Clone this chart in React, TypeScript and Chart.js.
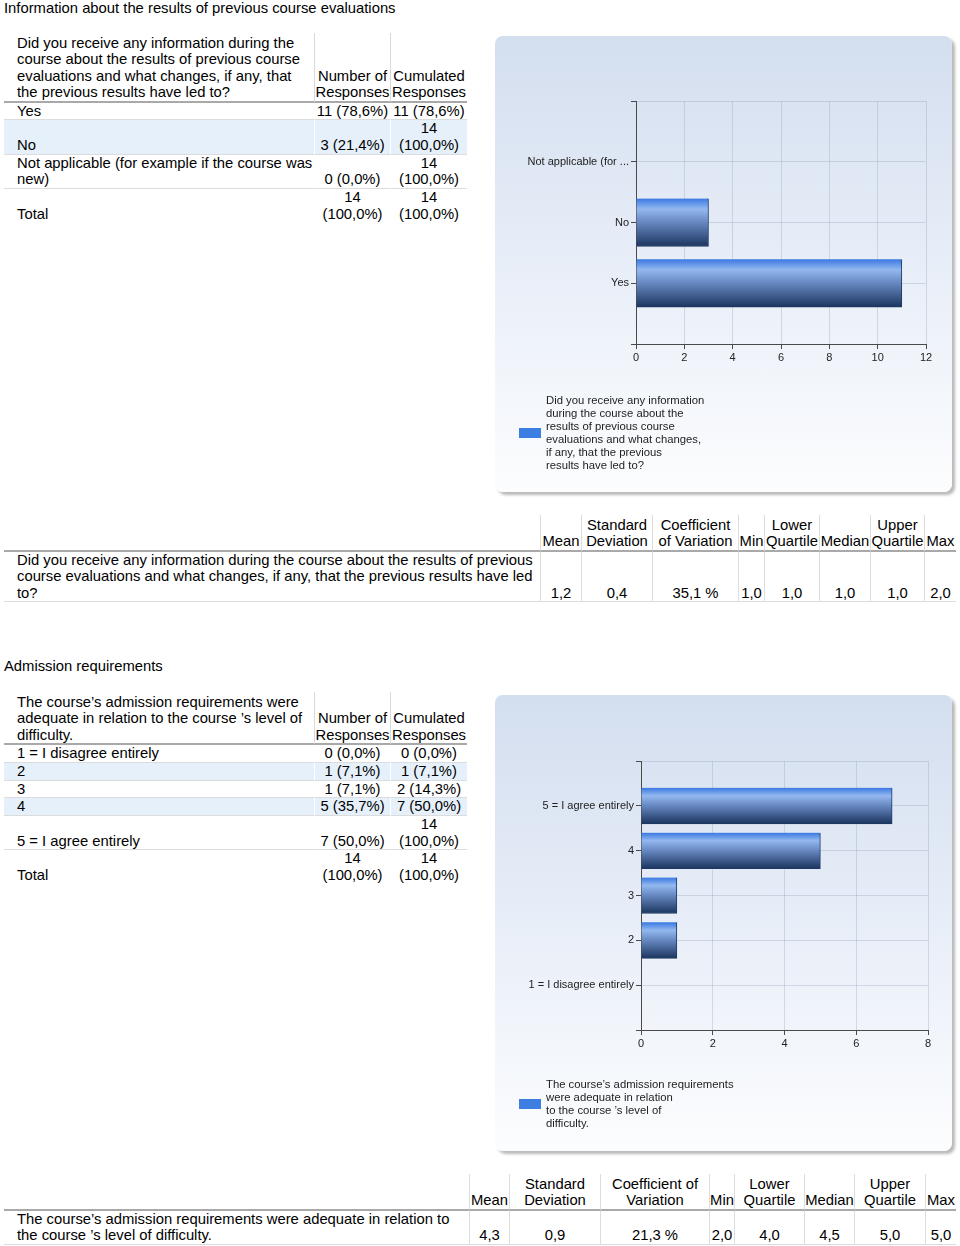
import React, { useEffect, useRef } from "react";
import { Chart, registerables } from "chart.js";
Chart.register(...registerables);

const FONT = '"Liberation Sans", Arial, Helvetica, sans-serif';

// ---------- Section 1 data ----------
const title1 = "Information about the results of previous course evaluations";
const q1Question =
  "Did you receive any information during the\ncourse about the results of previous course\nevaluations and what changes, if any, that\nthe previous results have led to?";
const freqHeaders = ["Number of\nResponses", "Cumulated\nResponses"];
const q1RowLabels = ["Yes", "No", "Not applicable (for example if the course was\nnew)", "Total"];
const q1CountText = ["11 (78,6%)", "3 (21,4%)", "0 (0,0%)", "14\n(100,0%)"];
const q1CumText = ["11 (78,6%)", "14\n(100,0%)", "14\n(100,0%)", "14\n(100,0%)"];

const q1ChartLabels = ["Yes", "No", "Not applicable (for ..."];
const q1Counts = [11, 3, 0];
const q1XMax = 12;
const q1Legend = [
  "Did you receive any information",
  "during the course about the",
  "results of previous course",
  "evaluations and what changes,",
  "if any, that the previous",
  "results have led to?",
];

const q1StatHeaders = ["Mean", "Standard\nDeviation", "Coefficient\nof Variation", "Min", "Lower\nQuartile", "Median", "Upper\nQuartile", "Max"];
const q1StatQuestion =
  "Did you receive any information during the course about the results of previous\ncourse evaluations and what changes, if any, that the previous results have led\nto?";
const q1StatValues = ["1,2", "0,4", "35,1 %", "1,0", "1,0", "1,0", "1,0", "2,0"];

// ---------- Section 2 data ----------
const title2 = "Admission requirements";
const q2Question =
  "The course\u2019s admission requirements were\nadequate in relation to the course \u2019s level of\ndifficulty.";
const q2RowLabels = ["1 = I disagree entirely", "2", "3", "4", "5 = I agree entirely", "Total"];
const q2CountText = ["0 (0,0%)", "1 (7,1%)", "1 (7,1%)", "5 (35,7%)", "7 (50,0%)", "14\n(100,0%)"];
const q2CumText = ["0 (0,0%)", "1 (7,1%)", "2 (14,3%)", "7 (50,0%)", "14\n(100,0%)", "14\n(100,0%)"];

const q2ChartLabels = ["1 = I disagree entirely", "2", "3", "4", "5 = I agree entirely"];
const q2Counts = [0, 1, 1, 5, 7];
const q2XMax = 8;
const q2Legend = [
  "The course\u2019s admission requirements",
  "were adequate in relation",
  "to the course \u2019s level of",
  "difficulty.",
];

const q2StatHeaders = ["Mean", "Standard\nDeviation", "Coefficient of\nVariation", "Min", "Lower\nQuartile", "Median", "Upper\nQuartile", "Max"];
const q2StatQuestion =
  "The course\u2019s admission requirements were adequate in relation to\nthe course \u2019s level of difficulty.";
const q2StatValues = ["4,3", "0,9", "21,3 %", "2,0", "4,0", "4,5", "5,0", "5,0"];

// ---------- components ----------
type CellProps = {
  text: string;
  align?: "left" | "center";
  padLeft?: number;
  padTop?: number;
  lineHeight: number;
  borderRight?: string;
  borderBottom?: string;
  background?: string;
};

function Cell(p: CellProps) {
  return (
    <div
      style={{
        boxSizing: "border-box",
        display: "flex",
        flexDirection: "column",
        justifyContent: "flex-end",
        paddingLeft: p.padLeft || 0,
        paddingTop: p.padTop || 0,
        borderRight: p.borderRight || "none",
        borderBottom: p.borderBottom || "none",
        background: p.background || "transparent",
        lineHeight: p.lineHeight + "px",
      }}
    >
      <div style={{ whiteSpace: "pre", textAlign: p.align || "left" }}>{p.text}</div>
    </div>
  );
}

function FreqTable(props: {
  top: number;
  question: string;
  rowLabels: string[];
  counts: string[];
  cums: string[];
}) {
  const { top, question, rowLabels, counts, cums } = props;
  const headBorder = "2px solid #a9a9a9";
  const cells: React.ReactNode[] = [];
  const hdr = [question, ...freqHeaders];
  hdr.forEach((t, i) =>
    cells.push(
      <Cell
        key={"h" + i}
        text={t}
        align={i === 0 ? "left" : "center"}
        padLeft={i === 0 ? 13 : 0}
        padTop={2}
        lineHeight={16.4}
        borderRight={i < 2 ? "1px solid #d9d9d9" : undefined}
        borderBottom={headBorder}
      />
    )
  );
  const last = rowLabels.length - 1;
  rowLabels.forEach((lab, r) => {
    const bg = r % 2 === 1 && r < last ? "#e6f0fb" : undefined;
    const bb = r < last ? "1px solid #dcdcdc" : undefined;
    [lab, counts[r], cums[r]].forEach((t, i) =>
      cells.push(
        <Cell
          key={"r" + r + "c" + i}
          text={t}
          align={i === 0 ? "left" : "center"}
          padLeft={i === 0 ? 13 : 0}
          lineHeight={16.7}
          borderRight={i < 2 ? "1px solid #ffffff" : undefined}
          borderBottom={bb}
          background={bg}
        />
      )
    );
  });
  return (
    <div
      style={{
        position: "absolute",
        left: 4,
        top,
        display: "grid",
        gridTemplateColumns: "311px 76px 76px",
      }}
    >
      {cells}
    </div>
  );
}

function StatTable(props: {
  top: number;
  widths: number[];
  headers: string[];
  question: string;
  values: string[];
}) {
  const { top, widths, headers, question, values } = props;
  const cells: React.ReactNode[] = [];
  const n = widths.length;
  ["", ...headers].forEach((t, i) =>
    cells.push(
      <Cell
        key={"h" + i}
        text={t}
        align={i === 0 ? "left" : "center"}
        padLeft={i === 0 ? 13 : 0}
        padTop={2}
        lineHeight={16.4}
        borderRight={i < n - 1 ? "1px solid #dddddd" : undefined}
        borderBottom="2px solid #a9a9a9"
      />
    )
  );
  [question, ...values].forEach((t, i) =>
    cells.push(
      <Cell
        key={"v" + i}
        text={t}
        align={i === 0 ? "left" : "center"}
        padLeft={i === 0 ? 13 : 0}
        lineHeight={16.5}
        borderRight={i < n - 1 ? "1px solid #dddddd" : undefined}
        borderBottom="1px solid #dddddd"
      />
    )
  );
  return (
    <div
      style={{
        position: "absolute",
        left: 4,
        top,
        display: "grid",
        gridTemplateColumns: widths.map((w) => w + "px").join(" "),
      }}
    >
      {cells}
    </div>
  );
}

type Area = { left: number; top: number; right: number; bottom: number };

function BarPanel(props: {
  left: number;
  top: number;
  labels: string[];
  values: number[];
  xMax: number;
  area: Area;
  barThickness: number;
  legend: string[];
  legendTop: number;
}) {
  const { left, top, labels, values, xMax, area, barThickness, legend, legendTop } = props;
  const ref = useRef<HTMLCanvasElement>(null);
  const W = 455;
  const H = 455;
  useEffect(() => {
    const canvas = ref.current;
    if (!canvas) return;
    const gridColor = "rgba(150,162,185,0.35)";
    const axisColor = "#4a4a4a";
    const chart = new Chart(canvas, {
      type: "bar",
      data: {
        datasets: [
          {
            data: values.map((v, i) => ({ x: v, y: i })),
            barThickness,
            backgroundColor: (c: any) => {
              const ys = c.chart.scales && c.chart.scales.y;
              if (!ys || typeof c.dataIndex !== "number") return "#4a80d0";
              const yc = ys.getPixelForValue(c.dataIndex);
              if (!Number.isFinite(yc)) return "#4a80d0";
              const h = barThickness / 2;
              const g = c.chart.ctx.createLinearGradient(0, yc - h, 0, yc + h);
              g.addColorStop(0, "#3a78e2");
              g.addColorStop(0.22, "#93b8ef");
              g.addColorStop(0.5, "#6687c0");
              g.addColorStop(1, "#1b355e");
              return g;
            },
            borderColor: "#1f3965",
            borderWidth: { top: 0, right: 1, bottom: 1, left: 0 },
            borderSkipped: false,
          } as any,
        ],
      },
      options: {
        indexAxis: "y",
        responsive: false,
        animation: false,
        layout: {
          padding: { top: area.top, right: W - area.right, bottom: H - area.bottom - 30, left: 0 },
        },
        plugins: { legend: { display: false }, tooltip: { enabled: false } },
        scales: {
          x: {
            type: "linear",
            min: 0,
            max: xMax,
            ticks: { stepSize: 2, color: "#222", font: { family: FONT, size: 11 }, padding: 2 },
            grid: { color: gridColor, tickColor: axisColor, tickLength: 5 },
            border: { color: axisColor, width: 1 },
            afterFit: (s: any) => {
              s.height = 30;
            },
          },
          y: {
            type: "linear",
            min: -1,
            max: labels.length,
            offset: false,
            ticks: {
              stepSize: 1,
              autoSkip: false,
              color: "#222",
              font: { family: FONT, size: 11 },
              padding: 2,
              callback: (v: any) => (labels[v as number] !== undefined ? labels[v as number] : ""),
            },
            grid: { offset: false, color: gridColor, tickColor: axisColor, tickLength: 5 },
            border: { color: axisColor, width: 1 },
            afterFit: (s: any) => {
              s.width = area.left;
            },
          },
        },
      } as any,
    });
    return () => chart.destroy();
  }, []);
  return (
    <>
      <div
        style={{
          position: "absolute",
          left,
          top,
          width: 457,
          height: 456,
          borderRadius: 8,
          background: "linear-gradient(to bottom, #d3deef 0%, #e8eef8 50%, #fcfdfe 100%)",
          boxShadow: "3px 3px 3px rgba(0,0,0,0.28)",
        }}
      />
      <canvas
        ref={ref}
        width={W}
        height={H}
        style={{ position: "absolute", left, top, width: W, height: H }}
      />
      <div
        style={{
          position: "absolute",
          left: left + 24,
          top: legendTop,
          display: "flex",
          alignItems: "center",
          fontSize: 11.3,
          lineHeight: "13px",
          color: "#222",
        }}
      >
        <div style={{ width: 22, height: 10, background: "#3d7ee2", marginRight: 5 }} />
        <div style={{ whiteSpace: "pre" }}>{legend.join("\n")}</div>
      </div>
    </>
  );
}

export default function App() {
  return (
    <div
      style={{
        position: "absolute",
        left: 0,
        top: 0,
        width: 960,
        height: 1246,
        overflow: "hidden",
        background: "#ffffff",
        fontFamily: FONT,
        fontSize: 14.8,
        color: "#000",
      }}
    >
      <div style={{ position: "absolute", left: 4, top: 0, lineHeight: "16px", whiteSpace: "pre" }}>{title1}</div>
      <FreqTable top={33} question={q1Question} rowLabels={q1RowLabels} counts={q1CountText} cums={q1CumText} />
      <BarPanel
        left={495}
        top={36}
        labels={q1ChartLabels}
        values={q1Counts}
        xMax={q1XMax}
        area={{ left: 141, top: 65, right: 431, bottom: 308 }}
        barThickness={48}
        legend={q1Legend}
        legendTop={394}
      />
      <StatTable
        top={515}
        widths={[537, 41, 71, 86, 26, 55, 51, 54, 31]}
        headers={q1StatHeaders}
        question={q1StatQuestion}
        values={q1StatValues}
      />

      <div style={{ position: "absolute", left: 4, top: 658, lineHeight: "16px", whiteSpace: "pre" }}>{title2}</div>
      <FreqTable top={692} question={q2Question} rowLabels={q2RowLabels} counts={q2CountText} cums={q2CumText} />
      <BarPanel
        left={495}
        top={695}
        labels={q2ChartLabels}
        values={q2Counts}
        xMax={q2XMax}
        area={{ left: 146, top: 66, right: 433, bottom: 335 }}
        barThickness={36}
        legend={q2Legend}
        legendTop={1078}
      />
      <StatTable
        top={1174}
        widths={[466, 40, 91, 109, 25, 70, 50, 71, 30]}
        headers={q2StatHeaders}
        question={q2StatQuestion}
        values={q2StatValues}
      />
    </div>
  );
}
